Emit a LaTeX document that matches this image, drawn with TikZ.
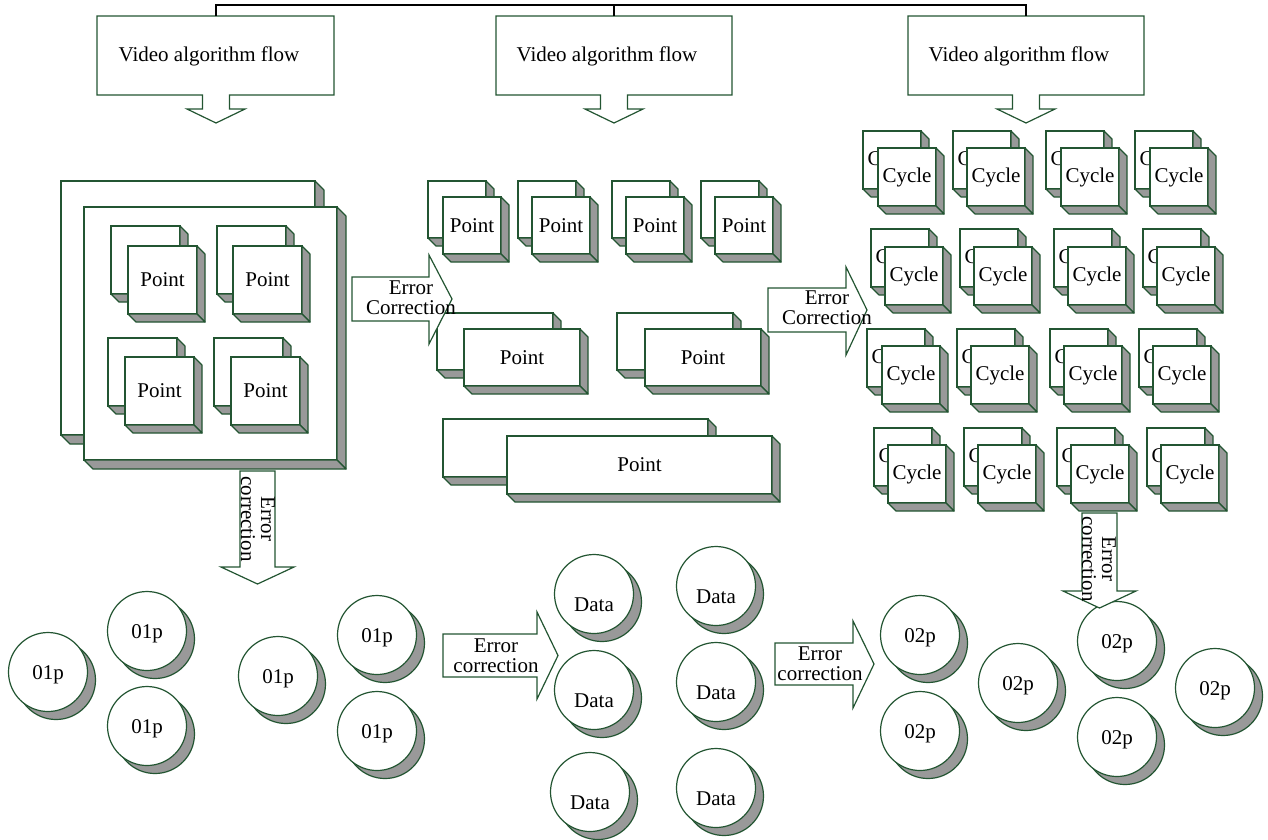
\documentclass[tikz,border=0pt]{standalone}
\usepackage{fontspec}
\setmainfont{Liberation Serif}
\usetikzlibrary{shadows}
\definecolor{grn}{RGB}{35,85,50}
\definecolor{shd}{RGB}{153,153,153}

\newcommand\cubebox[7]{% name, x, y, w, h, depth, text
  \node[cubeface, minimum width=#4pt, minimum height=#5pt] (#1) at (#2,#3) {#7};
  \path[cubeside] (#1.north east) -- ++(#6,#6) -- ([shift={(#6,#6)}]#1.south east) -- (#1.south east) -- cycle;
  \path[cubeside] (#1.south west) -- ++(#6,#6) -- ([shift={(#6,#6)}]#1.south east) -- (#1.south east) -- cycle;
}
\newcommand\cubepair[9]{% name, bx, by, w, h, fx, fy, backtext, fronttext
  \cubebox{#1b}{#2}{#3}{#4}{#5}{8}{#8}
  \cubebox{#1f}{#6}{#7}{#4}{#5}{8}{#9}
}
\newcommand\callout[5]{% name, x1, x2, cx, text
  \draw[blk] (#2,16) -- (#3,16) -- (#3,95) -- (#4+13.5,95) -- (#4+13.5,109) -- (#4+29,109)
     -- (#4,123) -- (#4-29,109) -- (#4-13.5,109) -- (#4-13.5,95) -- (#2,95) -- cycle;
  \coordinate (#1top) at (#4,16);
  \node[lbl] (#1) at (#4-7,56) {#5};
}
\newcommand\harrow[7]{% x1, x2, y1, y2, hy1, hy2, tipx
  \draw[blk] (#1,#3) -- (#2,#3) -- (#2,#5) -- (#7,{(#3+#4)/2}) -- (#2,#6) -- (#2,#4) -- (#1,#4) -- cycle;
}
\newcommand\varrow[7]{% x1, x2, y1, y2, hx1, hx2, tipy
  \draw[blk] (#1,#3) -- (#2,#3) -- (#2,#4) -- (#6,#4) -- ({(#1+#2)/2},#7) -- (#5,#4) -- (#1,#4) -- cycle;
}

\begin{document}
\begin{tikzpicture}[x=1pt,y=-1pt, font=\fontsize{21}{20}\selectfont,
  cubeface/.style={draw=grn, fill=white, line width=1.2pt, inner sep=0pt, outer sep=0pt, anchor=north west},
  cubeside/.style={draw=grn, fill=shd, line width=1.2pt, line join=round},
  blk/.style={draw=grn, fill=white, line width=1.2pt, line join=miter},
  disk/.style={circle, draw=grn, fill=white, line width=1.2pt, minimum size=79pt, inner sep=0pt,
     text height=14pt, text depth=0pt,
     drop shadow={shadow xshift=8pt, shadow yshift=-8pt, fill=shd, draw=grn, opacity=1, line width=1.2pt}},
  bus/.style={draw=black, line width=1.3pt},
  lbl/.style={align=center, inner sep=0pt}
]
\useasboundingbox (0,0) rectangle (1268,839);

% top callouts and bus
\callout{v1}{97}{334}{216}{Video algorithm flow}
\callout{v2}{496}{732}{614}{Video algorithm flow}
\callout{v3}{908}{1144}{1026}{Video algorithm flow}
\draw[bus] (v1top) -- (216,5) -| (v3top);
\draw[bus] (v2top) -- (614,5);

% left container
\cubebox{cb}{61}{181}{254}{254}{9}{}
\cubebox{cf}{84}{207}{253}{253}{9}{}
\cubepair{lp1}{111}{226}{69}{68}{128}{246}{}{Point}
\cubepair{lp2}{217}{226}{69}{68}{233}{246}{}{Point}
\cubepair{lp3}{108}{338}{69}{68}{125}{357}{}{Point}
\cubepair{lp4}{214}{338}{69}{68}{231}{357}{}{Point}

% middle points
\cubepair{mp1}{428}{181}{58}{57}{443}{197}{}{Point}
\cubepair{mp2}{518}{181}{58}{57}{532}{197}{}{Point}
\cubepair{mp3}{612}{181}{58}{57}{626}{197}{}{Point}
\cubepair{mp4}{701}{181}{58}{57}{715}{197}{}{Point}
\cubepair{mr1}{437}{313}{116}{57}{464}{329}{}{Point}
\cubepair{mr2}{617}{313}{116}{57}{645}{329}{}{Point}
\cubepair{mb}{443}{419}{265}{58}{507}{436}{}{Point}

% arrow E1
\harrow{352}{429}{277}{321}{255}{344}{452}
\node[lbl] (e1t) at (411,298) {Error\\Correction};

% cycles
\cubepair{ca1}{863}{131}{58}{58}{878}{148}{Cycle}{Cycle}
\cubepair{ca2}{953}{131}{58}{58}{967}{148}{Cycle}{Cycle}
\cubepair{ca3}{1046}{131}{58}{58}{1061}{148}{Cycle}{Cycle}
\cubepair{ca4}{1135}{131}{58}{58}{1150}{148}{Cycle}{Cycle}
\cubepair{cb1}{871}{229}{58}{58}{885}{247}{Cycle}{Cycle}
\cubepair{cb2}{960}{229}{58}{58}{974}{247}{Cycle}{Cycle}
\cubepair{cb3}{1054}{229}{58}{58}{1068}{247}{Cycle}{Cycle}
\cubepair{cb4}{1143}{229}{58}{58}{1157}{247}{Cycle}{Cycle}
\cubepair{cc1}{867}{329}{58}{58}{882}{346}{Cycle}{Cycle}
\cubepair{cc2}{957}{329}{58}{58}{971}{346}{Cycle}{Cycle}
\cubepair{cc3}{1050}{329}{58}{58}{1064}{346}{Cycle}{Cycle}
\cubepair{cc4}{1139}{329}{58}{58}{1153}{346}{Cycle}{Cycle}
\cubepair{cd1}{874}{428}{58}{58}{888}{445}{Cycle}{Cycle}
\cubepair{cd2}{964}{428}{58}{58}{978}{445}{Cycle}{Cycle}
\cubepair{cd3}{1057}{428}{58}{58}{1071}{445}{Cycle}{Cycle}
\cubepair{cd4}{1147}{428}{58}{58}{1161}{445}{Cycle}{Cycle}

% arrow E2
\harrow{768}{846}{288}{332}{267}{355}{867}
\node[lbl] (e2t) at (827,308) {Error\\Correction};

% vertical arrow V1
\varrow{240}{275}{471}{567}{221}{294}{584}
\node[lbl, rotate=-90] (v1t) at (258,519) {Error\\correction};

% 01p disks
\node[disk] (c1) at (48,672) {01p};
\node[disk] (c2) at (147,631) {01p};
\node[disk] (c3) at (147,726) {01p};
\node[disk] (c4) at (278,676) {01p};
\node[disk] (c5) at (377,635) {01p};
\node[disk] (c6) at (377,731) {01p};

% arrow E3
\harrow{443}{537}{634}{677}{612}{699}{558}
\node[lbl] (e3t) at (496,656) {Error\\correction};

% Data disks
\node[disk, text height=34pt] (d1) at (594,594) {Data};
\node[disk, text height=34pt] (d2) at (716,586) {Data};
\node[disk, text height=34pt] (d3) at (594,690) {Data};
\node[disk, text height=34pt] (d4) at (716,682) {Data};
\node[disk, text height=34pt] (d5) at (590,792) {Data};
\node[disk, text height=34pt] (d6) at (716,788) {Data};

% arrow E4
\harrow{775}{853}{643}{685}{621}{708}{874}
\node[lbl] (e4t) at (820,664) {Error\\correction};

% 02p disks
\node[disk] (f1) at (920,635) {02p};
\node[disk] (f2) at (920,731) {02p};
\node[disk] (f3) at (1018,683) {02p};
\node[disk] (f4) at (1117,641) {02p};
\node[disk] (f5) at (1117,737) {02p};
\node[disk] (f6) at (1215,688) {02p};

% vertical arrow V2
\varrow{1082}{1117}{513}{591}{1063}{1136}{608}
\node[lbl, rotate=-90] (v2t) at (1099,559) {Error\\correction};

\end{tikzpicture}
\end{document}
